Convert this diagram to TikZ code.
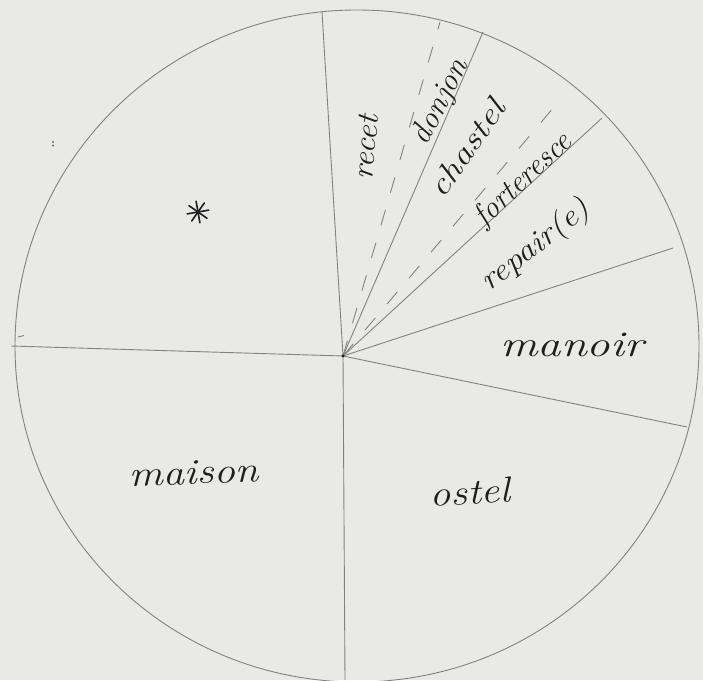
\documentclass[tikz,border=0pt]{standalone}
\usepackage{fontspec}
\usepackage{graphicx}
\definecolor{paper}{RGB}{233,233,231}
\definecolor{lead}{RGB}{130,130,130}
\definecolor{ink}{RGB}{30,30,30}
\begin{document}
\begin{tikzpicture}[x=1pt,y=1pt,
  pencil/.style={draw=lead, line width=0.9pt},
  pencildash/.style={draw=lead, line width=0.9pt, dash pattern=on 16pt off 18pt},
  lab/.style={font=\fontsize{36}{40}\selectfont\itshape, text=ink, inner sep=0pt},
  fanlab/.style={font=\fontsize{31}{34}\selectfont\itshape, text=ink, inner sep=0pt}]
\fill[paper] (0,0) rectangle (703,680);
\useasboundingbox (0,0) rectangle (703,680);
% circle (hand-drawn, slightly oval)
\draw[pencil] (357,334) ellipse [x radius=342, y radius=336];
% centre and radial end points
\coordinate (O) at (343,324);
\coordinate (U) at (322,668);
\coordinate (D1) at (440,658);
\coordinate (S1) at (483,648);
\coordinate (D2) at (560,580);
\coordinate (S2) at (602,562);
\coordinate (S3) at (673,432);
\coordinate (S4) at (687,253);
\coordinate (Dn) at (345,0);
\coordinate (L) at (11,334);
\draw[pencil] (O) -- (U);
\draw[pencildash] (O) -- (D1);
\draw[pencil] (O) -- (S1);
\draw[pencildash] (O) -- (D2);
\draw[pencil] (O) -- (S2);
\draw[pencil] (O) -- (S3);
\draw[pencil] (O) -- (S4);
\draw[pencil] (O) -- (Dn);
\draw[pencil] (O) -- (L);
\fill[ink] (O) circle (1.6);
% labels in the fan
\node[fanlab, rotate=85] (recet) at (366,533) {\scalebox{1.08}[1]{recet}};
\node[fanlab, rotate=63] (donjon) at (441,578) {\scalebox{1.02}[1]{donjon}};
\node[fanlab, rotate=55] (chastel) at (467,532) {\scalebox{1.24}[1]{chastel}};
\node[fanlab, rotate=43] (forteresce) at (524,500) {\scalebox{0.97}[1]{forteresce}};
\node[fanlab, rotate=38] (repaire) at (536,434) {\scalebox{1.12}[1]{repair(e)}};
% other labels
\node[lab, anchor=base] (manoir) at (572,323) {\scalebox{1.3}[1]{manoir}};
\node[lab, anchor=base, rotate=2] (maison) at (194,196) {\scalebox{1.18}[1]{maison}};
\node[lab, anchor=base, rotate=3.5] (ostel) at (471,176) {\scalebox{1.16}[1]{ostel}};
% asterisk
\coordinate (ast) at (198,468);
\foreach \a in {10,55,100,145}
  \draw[ink, line width=1.6pt, line cap=round, shift={(ast)}] (\a:11) -- (\a+180:11);
% small pencil marks
\fill[lead!80!black] (53,538) circle (1.1) (53,534.5) circle (1.1);
\draw[pencil] (18,343) -- (24,344.5);
\end{tikzpicture}
\end{document}
